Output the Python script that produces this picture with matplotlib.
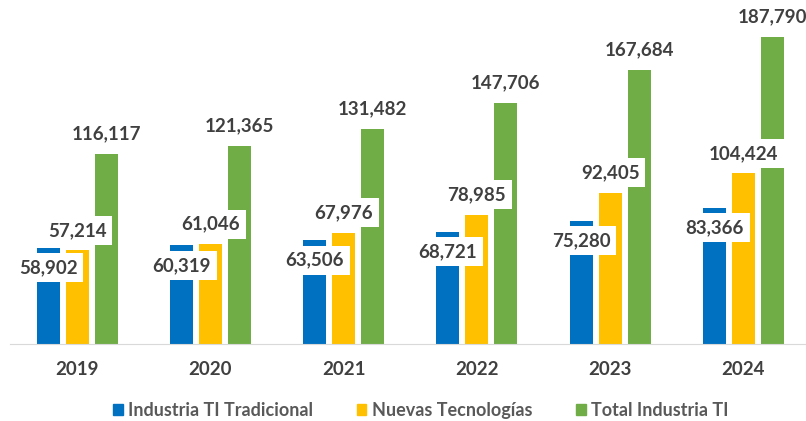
import matplotlib.pyplot as plt
from matplotlib.patches import Patch
import numpy as np

plt.rcParams["font.family"] = ["Lato", "DejaVu Sans"]

years = ["2019", "2020", "2021", "2022", "2023", "2024"]
tradicional = [58902, 60319, 63506, 68721, 75280, 83366]
nuevas = [57214, 61046, 67976, 78985, 92405, 104424]
total = [116117, 121365, 131482, 147706, 167684, 187790]

series = [
    ("Industria TI Tradicional", tradicional, "#0070C0"),
    ("Nuevas Tecnologías", nuevas, "#FFC000"),
    ("Total Industria TI", total, "#70AD47"),
]

TEXT = "#404040"
width = 0.173
step = 0.218

fig = plt.figure(figsize=(8.06, 4.21), dpi=100)
ax = fig.add_axes([0.013, 0.183, 0.987, 0.815])

x = np.arange(len(years))
for i, (name, values, color) in enumerate(series):
    pos = x + (i - 1) * step
    ax.bar(pos, values, width, color=color, label=name, zorder=2)
    for px, v in zip(pos, values):
        # first series gets its label inside the bar, the others above
        dy = -20 if i == 0 else 20
        ax.annotate(f"{v:,}", (px, v), xytext=(0, dy),
                    textcoords="offset pixels",
                    ha="center", va="center", fontsize=13.5,
                    fontweight="bold", color=TEXT, zorder=3,
                    bbox=dict(boxstyle="square,pad=0.32", fc="white",
                              ec="none"))

ax.set_xlim(-0.5, 5.47)
ax.set_ylim(0, 210000)
ax.set_yticks([])
ax.set_xticks(x)
ax.set_xticklabels(years, fontsize=13.5, fontweight="bold", color=TEXT)
ax.tick_params(axis="x", length=0, pad=12)
for side in ["left", "right", "top"]:
    ax.spines[side].set_visible(False)
ax.spines["bottom"].set_color("#D9D9D9")

handles = [Patch(color=c, label=n) for n, _, c in series]
fig.legend(handles=handles, loc="center", bbox_to_anchor=(0.522, 0.025),
           ncol=3, frameon=False, labelcolor="#595959",
           handlelength=0.55, handleheight=0.6, handletextpad=0.3,
           columnspacing=2.4, prop={"weight": "bold", "size": 13})

fig.savefig("out.png", dpi=100)
